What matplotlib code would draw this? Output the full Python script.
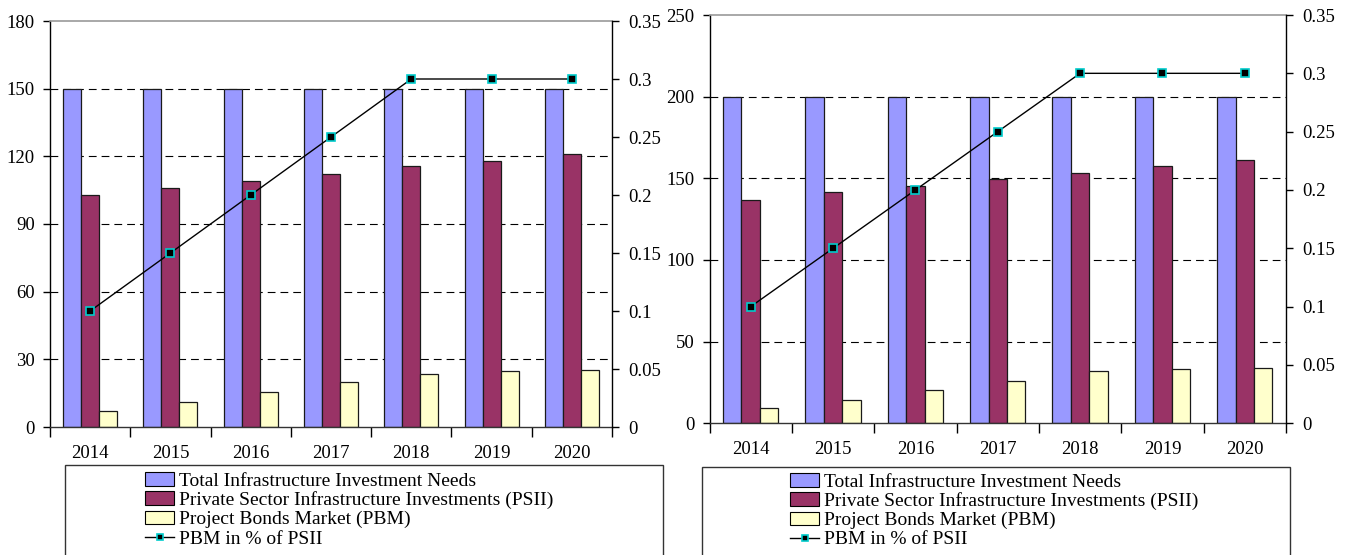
import matplotlib
matplotlib.use("Agg")
import matplotlib.pyplot as plt
import numpy as np
from matplotlib.patches import Patch, Rectangle
from matplotlib.lines import Line2D

years = ['2014', '2015', '2016', '2017', '2018', '2019', '2020']

left_total = [150, 150, 150, 150, 150, 150, 150]
left_psii = [103, 106, 109, 112, 115.5, 118, 121]
left_pbm = [7.2, 11, 15.5, 19.8, 23.7, 24.9, 25.3]
left_pct = [0.1, 0.15, 0.2, 0.25, 0.3, 0.3, 0.3]

right_total = [200, 200, 200, 200, 200, 200, 200]
right_psii = [137, 141.5, 145.5, 149.5, 153, 157.5, 161]
right_pbm = [9.2, 14.5, 20.2, 26.1, 32, 33, 33.6]
right_pct = [0.1, 0.15, 0.2, 0.25, 0.3, 0.3, 0.3]

left_ticks = [0, 30, 60, 90, 120, 150, 180]
right_ticks = [0, 50, 100, 150, 200, 250]
pct_ticks = [0, 0.05, 0.1, 0.15, 0.2, 0.25, 0.3, 0.35]
pct_labels = ['0', '0.05', '0.1', '0.15', '0.2', '0.25', '0.3', '0.35']

labels = ['Total Infrastructure Investment Needs',
          'Private Sector Infrastructure Investments (PSII)',
          'Project Bonds Market (PBM)',
          'PBM in % of PSII']

C_TOTAL = '#9999FF'
C_PSII = '#993366'
C_PBM = '#FFFFCC'
C_MARK = '#00CCCC'

plt.rcParams['font.family'] = ['Liberation Serif', 'DejaVu Serif']
FS = 13.5
LFS = 14

W, H = 1346, 555
fig = plt.figure(figsize=(W / 100, H / 100), dpi=100)


def px_axes(x0, x1, ytop, ybot):
    return fig.add_axes([x0 / W, (H - ybot) / H, (x1 - x0) / W, (ybot - ytop) / H])


def draw(ax, total, psii, pbm, pct, yticks):
    n = len(years)
    x = np.arange(n)
    bw = 0.224
    ymax = yticks[-1]
    for v in yticks[1:-1]:
        ax.axhline(v, color='black', lw=0.8, ls=(0, (7, 4.5)), zorder=0)
    kw = dict(edgecolor='#1a1a1a', linewidth=0.9, zorder=2)
    ax.bar(x - bw, total, bw, color=C_TOTAL, **kw)
    ax.bar(x, psii, bw, color=C_PSII, **kw)
    ax.bar(x + bw, pbm, bw, color=C_PBM, **kw)
    ax.set_xlim(-0.5, n - 0.5)
    ax.set_ylim(0, ymax)
    ax.set_yticks(yticks)
    ax.set_yticklabels([str(v) for v in yticks])
    ax.set_xticks(x)
    ax.set_xticklabels(years)
    ax.set_xticks(np.arange(-0.5, n, 1.0), minor=True)
    ax.tick_params(axis='x', which='major', length=0, pad=13, labelsize=FS)
    ax.tick_params(axis='x', which='minor', length=7, width=1, direction='out')
    ax.tick_params(axis='y', length=5, width=1, direction='out', pad=6, labelsize=FS)
    ax.spines['top'].set_color('#999999')
    ax.spines['top'].set_linewidth(1.2)
    ax.spines['right'].set_visible(False)
    ax.spines['left'].set_linewidth(1)
    ax.spines['bottom'].set_linewidth(1)
    ax.spines['bottom'].set_color('#333333')

    ax2 = ax.twinx()
    ax2.plot(x, pct, color='black', lw=1, marker='s', markersize=5.5,
             markerfacecolor='black', markeredgecolor=C_MARK, markeredgewidth=1.2,
             zorder=5)
    ax2.set_ylim(0, 0.35)
    ax2.set_yticks(pct_ticks)
    ax2.set_yticklabels(pct_labels)
    ax2.tick_params(axis='y', length=5, width=1, direction='out', pad=7, labelsize=FS)
    for s in ['top', 'left', 'bottom']:
        ax2.spines[s].set_visible(False)
    ax2.spines['right'].set_linewidth(1)
    return ax2


axL = px_axes(50, 612, 21, 427)
draw(axL, left_total, left_psii, left_pbm, left_pct, left_ticks)
axR = px_axes(709.5, 1286, 15, 423.3)
draw(axR, right_total, right_psii, right_pbm, right_pct, right_ticks)

handles = [Patch(facecolor=C_TOTAL, edgecolor='black', linewidth=0.8),
           Patch(facecolor=C_PSII, edgecolor='black', linewidth=0.8),
           Patch(facecolor=C_PBM, edgecolor='black', linewidth=0.8),
           Line2D([], [], color='black', lw=1, marker='s', markersize=5,
                  markerfacecolor='black', markeredgecolor=C_MARK, markeredgewidth=1.2)]


def legend_box(x0, x1, ytop, hx, hy):
    rect = Rectangle((x0 / W, -0.1), (x1 - x0) / W, (H - ytop) / H + 0.1,
                     transform=fig.transFigure, facecolor='none',
                     edgecolor='#333333', linewidth=1)
    fig.patches.append(rect)
    fig.legend(handles, labels, loc='upper left',
               bbox_to_anchor=(hx / W, (H - hy) / H),
               frameon=False, fontsize=LFS, borderpad=0, borderaxespad=0,
               handlelength=1.5, handleheight=0.7, handletextpad=0.25,
               labelspacing=0.08)


legend_box(65, 663, 465, 145, 472)
legend_box(702, 1290, 467, 790, 473)

fig.savefig('out.png', dpi=100)
